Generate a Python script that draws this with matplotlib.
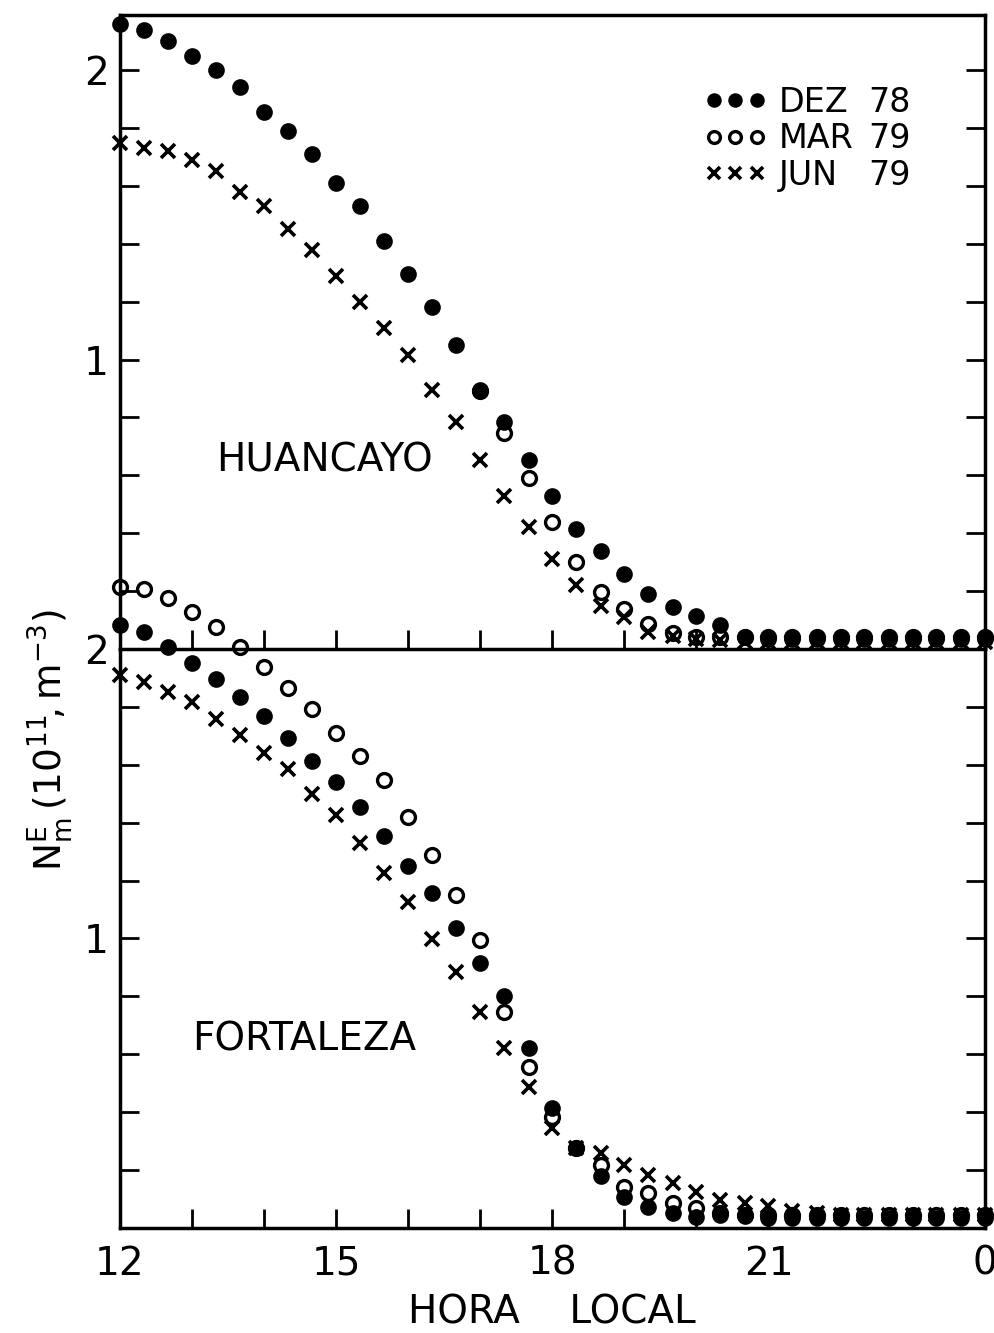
import numpy as np
import matplotlib
matplotlib.use("Agg")
import matplotlib.pyplot as plt
from matplotlib.lines import Line2D

# horas de 20 em 20 minutos, 12h ate 0h (=24)
horas = [12.00, 12.33, 12.67, 13.00, 13.33, 13.67, 14.00, 14.33, 14.67,
         15.00, 15.33, 15.67, 16.00, 16.33, 16.67, 17.00, 17.33, 17.67,
         18.00, 18.33, 18.67, 19.00, 19.33, 19.67, 20.00, 20.33, 20.67,
         21.00, 21.33, 21.67, 22.00, 22.33, 22.67, 23.00, 23.33, 23.67, 24.00]

# Huancayo
hua_dez = [2.16, 2.14, 2.10, 2.05, 2.00, 1.94, 1.855, 1.79, 1.71, 1.61, 1.53, 1.41,
           1.295, 1.18, 1.05, 0.895, 0.785, 0.653, 0.53, 0.414, 0.34, 0.26, 0.19,
           0.145, 0.115, 0.083, 0.04, 0.035, 0.035, 0.035, 0.035, 0.035, 0.035,
           0.035, 0.035, 0.035, 0.035]
hua_mar_horas = horas[15:]
hua_mar = [0.89, 0.745, 0.59, 0.44, 0.30, 0.197, 0.137, 0.087, 0.057, 0.04, 0.04,
           0.04, 0.04, 0.04, 0.04, 0.04, 0.04, 0.04, 0.04, 0.04, 0.04, 0.04]
hua_jun = [1.748, 1.73, 1.72, 1.69, 1.65, 1.58, 1.53, 1.45, 1.38, 1.29, 1.20, 1.11,
           1.015, 0.895, 0.785, 0.653, 0.53, 0.42, 0.31, 0.22, 0.148, 0.11, 0.06,
           0.045, 0.035, 0.03, 0.025, 0.025, 0.025, 0.025, 0.025, 0.025, 0.025,
           0.025, 0.025, 0.025, 0.025]

# Fortaleza
for_dez = [2.083, 2.059, 2.007, 1.952, 1.896, 1.834, 1.769, 1.693, 1.613, 1.541,
           1.454, 1.354, 1.25, 1.157, 1.036, 0.915, 0.80, 0.622, 0.415, 0.275,
           0.18, 0.107, 0.073, 0.052, 0.038, 0.045, 0.04, 0.035, 0.035, 0.035,
           0.035, 0.035, 0.035, 0.035, 0.035, 0.035, 0.035]
for_mar = [2.214, 2.207, 2.176, 2.128, 2.076, 2.007, 1.938, 1.865, 1.793, 1.710,
           1.630, 1.547, 1.42, 1.29, 1.15, 0.995, 0.745, 0.556, 0.385, 0.275,
           0.218, 0.142, 0.121, 0.086, 0.07, 0.052, 0.045, 0.045, 0.045, 0.045,
           0.045, 0.045, 0.045, 0.045, 0.045, 0.045, 0.045]
for_jun = [1.910, 1.886, 1.851, 1.817, 1.758, 1.703, 1.641, 1.585, 1.499, 1.427,
           1.330, 1.226, 1.125, 0.998, 0.884, 0.746, 0.622, 0.487, 0.345, 0.275,
           0.26, 0.218, 0.183, 0.155, 0.124, 0.097, 0.086, 0.075, 0.06, 0.05,
           0.045, 0.045, 0.045, 0.045, 0.045, 0.045, 0.045]

xticks = [12, 13, 14, 15, 16, 17, 18, 19, 20, 21, 22, 23, 24]
xlabels = ['12', '', '', '15', '', '', '18', '', '', '21', '', '', '0']
yticks = [0, 0.2, 0.4, 0.6, 0.8, 1.0, 1.2, 1.4, 1.6, 1.8, 2.0]
ylabels = ['', '', '', '', '', '1', '', '', '', '', '2']

plt.rcParams['font.family'] = ['DejaVu Sans']
FS = 28

fig = plt.figure(figsize=(9.95, 13.33), dpi=100)
ax1 = fig.add_axes([0.1206, 0.5131, 0.869, 0.4756])
ax2 = fig.add_axes([0.1206, 0.0788, 0.869, 0.4343])

estilo_dez = dict(ls='none', marker='o', ms=10.5, mfc='black', mec='black', mew=1.5)
estilo_mar = dict(ls='none', marker='o', ms=10, mfc='none', mec='black', mew=2.4)
estilo_jun = dict(ls='none', marker='x', ms=10.5, mec='black', mew=2.6)

ax1.plot(horas, hua_dez, clip_on=False, zorder=3, **estilo_dez)
ax1.plot(hua_mar_horas, hua_mar, clip_on=False, zorder=3, **estilo_mar)
ax1.plot(horas, hua_jun, clip_on=False, zorder=3, **estilo_jun)

ax2.plot(horas, for_dez, clip_on=False, zorder=3, **estilo_dez)
ax2.plot(horas, for_mar, clip_on=False, zorder=3, **estilo_mar)
ax2.plot(horas, for_jun, clip_on=False, zorder=3, **estilo_jun)

for ax, ytop in ((ax1, 2.19), (ax2, 2.0)):
    ax.set_xlim(12, 24)
    ax.set_ylim(0, ytop)
    ax.patch.set_visible(False)
    for s in ax.spines.values():
        s.set_linewidth(2.5)
    ax.set_xticks(xticks, labels=xlabels)
    ax.set_yticks(yticks, labels=ylabels)
    ax.tick_params(direction='in', length=14, width=2, right=True, top=False,
                   labelsize=FS, pad=8)

ax1.tick_params(labelbottom=False)
ax2.spines['top'].set_visible(False)
ax2.tick_params(axis='x', pad=12)

ax1.text(13.33, 0.65, 'HUANCAYO', fontsize=FS, va='center', ha='left')
ax2.text(13.0, 0.65, 'FORTALEZA', fontsize=FS, va='center', ha='left')

ax2.set_xlabel('HORA    LOCAL', fontsize=FS, labelpad=8)
fig.text(0.05, 0.445, r'$\mathrm{N_m^E\,(10^{11}\!,m^{-3})}$', fontsize=27,
         rotation=90, ha='center', va='center')

# legenda: simbolos + meses, e os anos numa segunda coluna
h = [Line2D([], [], **estilo_dez), Line2D([], [], **estilo_mar),
     Line2D([], [], **estilo_jun)]
leg1 = ax1.legend(h, ['DEZ', 'MAR', 'JUN'], loc='upper left',
                  bbox_to_anchor=(0.675, 0.888), frameon=False, numpoints=3,
                  fontsize=24, handlelength=1.9, handletextpad=0.35,
                  labelspacing=0.1, borderpad=0, borderaxespad=0,
                  markerscale=0.85)
ax1.add_artist(leg1)
vazio = [Line2D([], [], ls='none') for _ in range(3)]
ax1.legend(vazio, ['78', '79', '79'], loc='upper left',
           bbox_to_anchor=(0.865, 0.888), frameon=False, fontsize=24,
           handlelength=0, handletextpad=0, labelspacing=0.1,
           borderpad=0, borderaxespad=0)

fig.savefig('out.png', dpi=100)
